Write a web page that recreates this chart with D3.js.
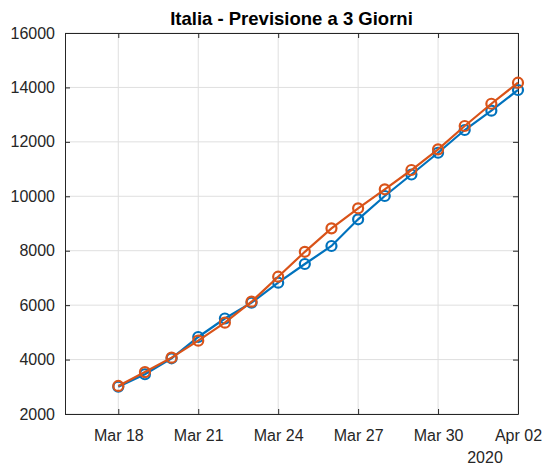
<!DOCTYPE html>
<html>
<head>
<meta charset="utf-8">
<script src="https://cdn.jsdelivr.net/npm/d3@7"></script>
<style>
  body { margin: 0; background: #fff; }
  text { font-family: "Liberation Sans", Arial, Helvetica, sans-serif; }
</style>
</head>
<body>
<script>
      var w = 547;
      var h = 468;
      var margin = {top: 33, right: 29, bottom: 54, left: 65};

      // data
      var dates = ["2020-03-18", "2020-03-19", "2020-03-20", "2020-03-21", "2020-03-22",
                   "2020-03-23", "2020-03-24", "2020-03-25", "2020-03-26", "2020-03-27",
                   "2020-03-28", "2020-03-29", "2020-03-30", "2020-03-31", "2020-04-01",
                   "2020-04-02"];
      var actual = [3003, 3460, 4047, 4830, 5510, 6090, 6825, 7512, 8173, 9154,
                    10011, 10800, 11600, 12436, 13146, 13906];
      var forecast = [3030, 3540, 4070, 4694, 5356, 6127, 7045, 7960, 8823, 9559,
                      10257, 10966, 11726, 12583, 13400, 14174];
      var yTicks = [2000, 4000, 6000, 8000, 10000, 12000, 14000, 16000];
      var xTickDates = ["2020-03-18", "2020-03-21", "2020-03-24", "2020-03-27", "2020-03-30", "2020-04-02"];

      var parse = d3.timeParse("%Y-%m-%d");
      var fmt = d3.timeFormat("%b %d");
      var days = dates.map(parse);

      var svg = d3.select("body")
                  .append("svg")
                  .attr("width", w)
                  .attr("height", h);

      var x = d3.scaleTime()
                .domain([parse("2020-03-16"), parse("2020-04-02")])
                .range([margin.left, w - margin.right]);
      var y = d3.scaleLinear()
                .domain([2000, 16000])
                .range([h - margin.bottom, margin.top]);

      var axisColor = "#262626";
      var gridColor = "#dfdfdf";

      // grid
      svg.append("g").selectAll("line")
         .data(yTicks)
         .enter()
         .append("line")
         .attr("x1", margin.left).attr("x2", w - margin.right)
         .attr("y1", function(d){return y(d);}).attr("y2", function(d){return y(d);})
         .attr("stroke", gridColor).attr("stroke-width", 1);
      svg.append("g").selectAll("line")
         .data(xTickDates.map(parse))
         .enter()
         .append("line")
         .attr("x1", function(d){return x(d);}).attr("x2", function(d){return x(d);})
         .attr("y1", margin.top).attr("y2", h - margin.bottom)
         .attr("stroke", gridColor).attr("stroke-width", 1);

      // axes (MATLAB style: ticks inside, box on)
      var xAxis = d3.axisBottom(x).tickValues(xTickDates.map(parse))
                    .tickFormat(fmt).tickSizeInner(-5).tickSizeOuter(0).tickPadding(16);
      var yAxis = d3.axisLeft(y).tickValues(yTicks).tickFormat(d3.format("d"))
                    .tickSizeInner(-5).tickSizeOuter(0).tickPadding(10);

      var gx = svg.append("g")
                  .attr("transform", "translate(0," + (h - margin.bottom) + ")")
                  .call(xAxis);
      var gy = svg.append("g")
                  .attr("transform", "translate(" + margin.left + ",0)")
                  .call(yAxis);
      var gxt = svg.append("g")
                   .attr("transform", "translate(0," + margin.top + ")")
                   .call(d3.axisTop(x).tickValues(xTickDates.map(parse)).tickFormat("").tickSizeInner(-5).tickSizeOuter(0));
      var gyr = svg.append("g")
                   .attr("transform", "translate(" + (w - margin.right) + ",0)")
                   .call(d3.axisRight(y).tickValues(yTicks).tickFormat("").tickSizeInner(-5).tickSizeOuter(0));

      [gx, gy, gxt, gyr].forEach(function(g){
        g.select(".domain").attr("stroke", axisColor).attr("stroke-width", 1);
        g.selectAll(".tick line").attr("stroke", axisColor);
        g.selectAll(".tick text").attr("fill", axisColor).attr("font-size", "16px")
         .attr("font-family", "'Liberation Sans', Arial, sans-serif");
      });

      svg.append("text")
         .text("2020")
         .attr("x", 485)
         .attr("y", 463)
         .attr("text-anchor", "middle")
         .attr("font-size", "16px")
         .attr("fill", axisColor);

      svg.append("text")
         .text("Italia - Previsione a 3 Giorni")
         .attr("x", (margin.left + w - margin.right) / 2)
         .attr("y", 25)
         .attr("text-anchor", "middle")
         .attr("font-size", "18.5px")
         .attr("font-weight", "bold")
         .attr("fill", "#000");

      var series = [
        {values: actual, color: "#0072BD"},
        {values: forecast, color: "#D95319"}
      ];

      var line = d3.line()
                   .x(function(d, i){return x(days[i]);})
                   .y(function(d){return y(d);});

      series.forEach(function(s){
        svg.append("path")
           .datum(s.values)
           .attr("d", line)
           .attr("fill", "none")
           .attr("stroke", s.color)
           .attr("stroke-width", 2.2);
        svg.append("g").selectAll("circle")
           .data(s.values)
           .enter()
           .append("circle")
           .attr("cx", function(d, i){return x(days[i]);})
           .attr("cy", function(d){return y(d);})
           .attr("r", 5)
           .attr("fill", "none")
           .attr("stroke", s.color)
           .attr("stroke-width", 2.2);
      });
</script>
</body>
</html>
